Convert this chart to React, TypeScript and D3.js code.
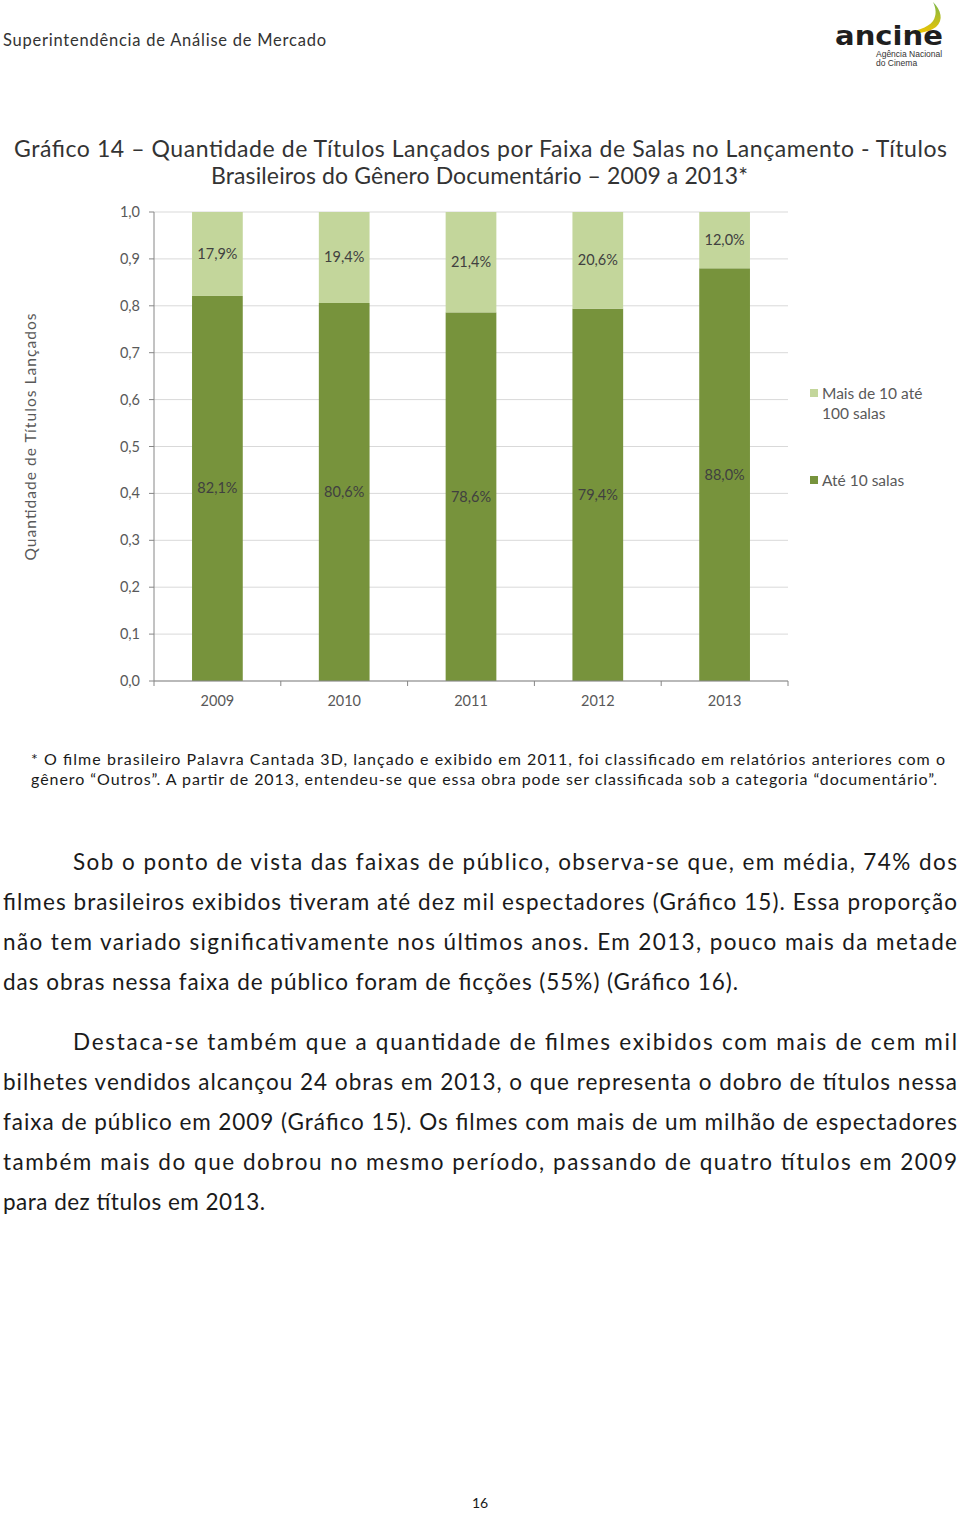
import React from "react";
import * as d3 from "d3";

const years = ["2009", "2010", "2011", "2012", "2013"];
const ate10 = [0.821, 0.806, 0.786, 0.794, 0.88];
const mais10 = [0.179, 0.194, 0.214, 0.206, 0.12];
const ate10Labels = ["82,1%", "80,6%", "78,6%", "79,4%", "88,0%"];
const mais10Labels = ["17,9%", "19,4%", "21,4%", "20,6%", "12,0%"];
const yTicks = [0, 0.1, 0.2, 0.3, 0.4, 0.5, 0.6, 0.7, 0.8, 0.9, 1.0];
const seriesNames = ["Mais de 10 até", "100 salas", "Até 10 salas"];

const titleLines = [
  "Gráfico 14 – Quantidade de Títulos Lançados por Faixa de Salas no Lançamento - Títulos",
  "Brasileiros do Gênero Documentário – 2009 a 2013*",
];
const footLines = [
  "* O filme brasileiro Palavra Cantada 3D, lançado e exibido em 2011, foi classificado em relatórios anteriores com o",
  "gênero “Outros”. A partir de 2013, entendeu-se que essa obra pode ser classificada sob a categoria “documentário”.",
];
const para1 = [
  "Sob o ponto de vista das faixas de público, observa-se que, em média, 74% dos",
  "filmes brasileiros exibidos tiveram até dez mil espectadores (Gráfico 15). Essa proporção",
  "não tem variado significativamente nos últimos anos. Em 2013, pouco mais da metade",
  "das obras nessa faixa de público foram de ficções (55%) (Gráfico 16).",
];
const para2 = [
  "Destaca-se também que a quantidade de filmes exibidos com mais de cem mil",
  "bilhetes vendidos alcançou 24 obras em 2013, o que representa o dobro de títulos nessa",
  "faixa de público em 2009 (Gráfico 15). Os filmes com mais de um milhão de espectadores",
  "também mais do que dobrou no mesmo período, passando de quatro títulos em 2009",
  "para dez títulos em 2013.",
];

const DARK = "#77933C";
const LIGHT = "#C3D69B";
const FONT = "Lato, 'DejaVu Sans', sans-serif";

export default function App() {
  const W = 960;
  const H = 1513;
  const x = d3.scaleBand<string>().domain(years).range([154, 788]).padding(0);
  const y = d3.scaleLinear().domain([0, 1]).range([681, 212]);
  const bw = x.bandwidth() * 0.4;
  const fmt = (v: number) => d3.format(".1f")(v).replace(".", ",");
  const boundaries = [...years.map((d) => x(d) as number), 788];

  const bodyLine = (t: string, i: number, startY: number, justify: boolean, last: number, first: boolean) => {
    const x0 = first ? 73 : 3;
    const endX = justify ? 957 : last;
    return (
      <text
        key={t}
        x={x0}
        y={startY + i * 40}
        fontSize={22.5}
        fill="#1a1a1a"
        textLength={endX - x0}
        lengthAdjust="spacing"
      >
        {t}
      </text>
    );
  };

  return (
    <svg
      width={W}
      height={H}
      style={{ display: "block", position: "absolute", left: 0, top: 0, fontFamily: FONT }}
    >
      <rect width={W} height={H} fill="#fff" />
      {/* header */}
      <text x={3} y={46} fontSize={16.5} fill="#333" textLength={323} lengthAdjust="spacing">
        Superintendência de Análise de Mercado
      </text>
      {/* logo */}
      <defs>
        <linearGradient id="sw" x1="0" y1="0" x2="0" y2="1">
          <stop offset="0" stopColor="#7AB648" />
          <stop offset="1" stopColor="#F2C500" />
        </linearGradient>
      </defs>
      <path
        d="M933,2 C941,10 944,20 936,27 C928,33 915,34 903,34 C915,31 928,28 933,21 C937,15 936,8 933,2 Z"
        fill="url(#sw)"
      />
      <text x={835} y={45} fontSize={27} fontWeight="bold" fill="#1f1f1f" textLength={108} lengthAdjust="spacingAndGlyphs" fontFamily="'DejaVu Sans', sans-serif">
        ancine
      </text>
      <text x={876} y={57} fontSize={8.5} fill="#333" fontFamily="'Liberation Sans', sans-serif">Agência Nacional</text>
      <text x={876} y={66} fontSize={8.5} fill="#333" fontFamily="'Liberation Sans', sans-serif">do Cinema</text>

      {/* title */}
      <text x={480.5} y={157} fontSize={23} fill="#333" textAnchor="middle" textLength={933} lengthAdjust="spacing">
        {titleLines[0]}
      </text>
      <text x={479.5} y={184} fontSize={23} fill="#333" textAnchor="middle" textLength={537} lengthAdjust="spacing">
        {titleLines[1]}
      </text>

      {/* gridlines */}
      {yTicks.map((t) => (
        <line key={"g" + t} x1={154} x2={788} y1={y(t)} y2={y(t)} stroke="#D9D9D9" strokeWidth={1} />
      ))}
      {/* bars */}
      {years.map((yr, i) => {
        const cx = (x(yr) as number) + x.bandwidth() / 2;
        return (
          <g key={yr}>
            <rect x={cx - bw / 2} y={y(ate10[i])} width={bw} height={y(0) - y(ate10[i])} fill={DARK} />
            <rect x={cx - bw / 2} y={y(ate10[i] + mais10[i])} width={bw} height={y(ate10[i]) - y(ate10[i] + mais10[i])} fill={LIGHT} />
            <text x={cx} y={(y(0) + y(ate10[i])) / 2 + 5} textAnchor="middle" fontSize={14.5} fill="#404040">
              {ate10Labels[i]}
            </text>
            <text x={cx} y={(y(ate10[i]) + y(ate10[i] + mais10[i])) / 2 + 5} textAnchor="middle" fontSize={14.5} fill="#404040">
              {mais10Labels[i]}
            </text>
            <text x={cx} y={706} textAnchor="middle" fontSize={14.5} fill="#595959">
              {yr}
            </text>
          </g>
        );
      })}
      {/* axes */}
      <line x1={154} x2={154} y1={212} y2={681} stroke="#868686" />
      {yTicks.map((t) => (
        <g key={"t" + t}>
          <line x1={149} x2={154} y1={y(t)} y2={y(t)} stroke="#868686" />
          <text x={140} y={y(t) + 5} textAnchor="end" fontSize={14.5} fill="#595959">
            {fmt(t)}
          </text>
        </g>
      ))}
      <line x1={154} x2={788} y1={681} y2={681} stroke="#868686" />
      {boundaries.map((b, i) => (
        <line key={"b" + i} x1={b} x2={b} y1={681} y2={686} stroke="#868686" />
      ))}
      <text transform="translate(36,437) rotate(-90)" textAnchor="middle" fontSize={15.5} fill="#595959" textLength={247} lengthAdjust="spacing">
        Quantidade de Títulos Lançados
      </text>

      {/* legend */}
      <rect x={810} y={389} width={8} height={8} fill={LIGHT} />
      <text x={822} y={399} fontSize={15.5} fill="#595959">{seriesNames[0]}</text>
      <text x={822} y={419} fontSize={15.5} fill="#595959">{seriesNames[1]}</text>
      <rect x={810} y={476} width={8} height={8} fill={DARK} />
      <text x={822} y={486} fontSize={15.5} fill="#595959">{seriesNames[2]}</text>

      {/* footnote */}
      <text x={31} y={765} fontSize={16} fill="#1a1a1a" textLength={914} lengthAdjust="spacing">
        {footLines[0]}
      </text>
      <text x={31} y={785} fontSize={16} fill="#1a1a1a" textLength={906} lengthAdjust="spacing">
        {footLines[1]}
      </text>

      {/* body */}
      {para1.map((t, i) => bodyLine(t, i, 870, i < para1.length - 1, 738, i === 0))}
      {para2.map((t, i) => bodyLine(t, i, 1050, i < para2.length - 1, 265, i === 0))}

      <text x={480} y={1508} textAnchor="middle" fontSize={14} fill="#1a1a1a">16</text>
    </svg>
  );
}
